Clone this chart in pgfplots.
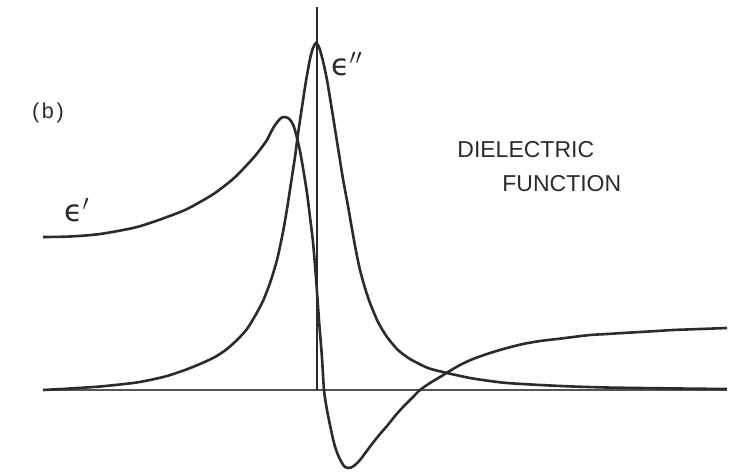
\documentclass[border=0pt]{standalone}
\usepackage{pgfplots}
\pgfplotsset{compat=1.18}
\usepackage{fontspec}
\setmainfont{Liberation Sans}
\newfontfamily\symfont{DejaVu Sans}
\definecolor{ink}{HTML}{2B2B2B}
\definecolor{baseink}{HTML}{555555}
\begin{document}
\begin{tikzpicture}
\begin{axis}[
  scale only axis, width=370.5pt, height=235.5pt,
  xmin=0, xmax=741, ymin=-81, ymax=390,
  hide axis, clip=false,
]
\path (axis cs:0,-81) rectangle (axis cs:741,390);
% baseline
\addplot[baseink, line width=0.9pt] coordinates {(43,0) (727,0)};
% vertical line at resonance
\addplot[ink, line width=1.1pt] coordinates {(317,0) (317,383)};
% epsilon'
\addplot[ink, line width=1.3pt, smooth, tension=0.5] coordinates {
(43,153) (70,153.5) (100,156) (133,162) (150,167) (167,173) (185,180) (200,188)
(215,197) (233,211) (245,223) (255,234) (262,243) (267,250) (271,258) (275,265)
(279,270) (282,272.5) (285,273) (288,272) (291,269) (294,263) (297,252) (300,239)
(303,222) (307,197) (310,173) (313,148) (316,112) (319,70) (322,32) (324,0)
(327,-20) (330,-35) (334,-53) (338,-65) (342,-73) (345,-77) (348,-78) (351,-77.5)
(355,-75) (360,-70) (366,-62) (372,-54) (380,-44) (387,-36) (395,-26) (403,-17)
(412,-8) (420,0) (430,7) (440,13) (448,18) (460,25) (473,31) (490,37)
(507,42) (523,46) (540,49) (557,51) (573,53) (590,55) (607,56) (623,57)
(640,58) (657,59) (673,60) (700,61) (727,62)
};
% epsilon''
\addplot[ink, line width=1.3pt, smooth, tension=0.4] coordinates {
(43,0) (70,1.5) (100,3.5) (133,7) (150,10) (167,14) (185,20) (200,26)
(215,33) (227,41) (238,51) (247,61) (255,74) (263,89) (270,107) (277,130)
(283,158) (287,181) (291,207) (295,233) (298,256) (302,283) (306,309) (310,331)
(313,342) (316,347) (319,343) (323,329) (327,310) (331,286) (335,261) (339,236)
(343,211) (348,184) (352,161) (356,139) (360,120) (365,102) (370,87) (378,68)
(387,53) (398,40) (410,31) (428,22) (447,17) (470,12) (490,9) (507,7)
(540,5) (573,3.5) (607,2.5) (640,2) (680,1.5) (727,1)
};
% labels
\node[ink, font=\fontsize{10.8}{12}\selectfont] at (axis cs:48,277) {(\hspace{0.12em}b\hspace{0.12em})};
\node[ink, font=\symfont\fontsize{15}{15}\selectfont] at (axis cs:77,180) {ϵ$'$};
\node[ink, font=\symfont\fontsize{15}{15}\selectfont] at (axis cs:347,326) {ϵ$''$};
\node[ink, anchor=west, inner sep=0pt, font=\fontsize{11.5}{12}\selectfont] at (axis cs:457,240) {DIELECTRIC};
\node[ink, anchor=west, inner sep=0pt, font=\fontsize{11.5}{12}\selectfont] at (axis cs:502,206) {FUNCTION};
\end{axis}
\end{tikzpicture}
\end{document}
